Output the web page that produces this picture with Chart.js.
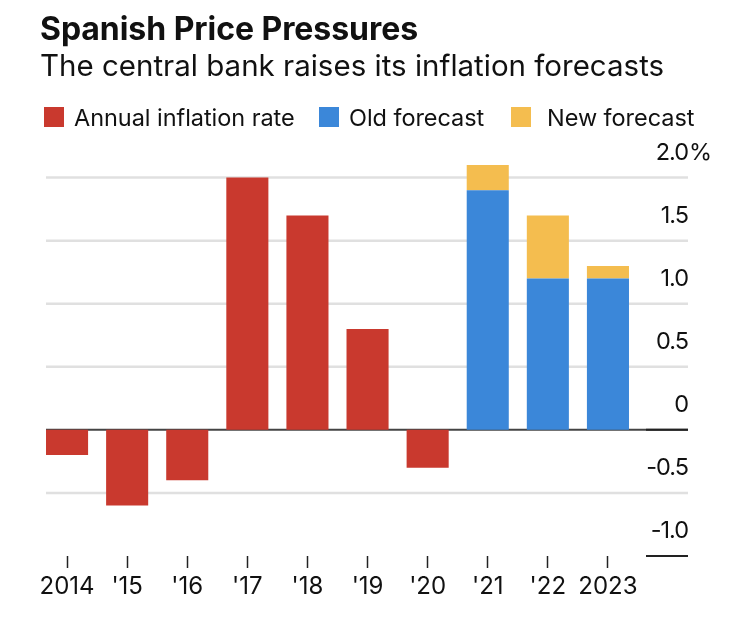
<!DOCTYPE html>
<html>
<head>
<meta charset="utf-8">
<script src="https://cdn.jsdelivr.net/npm/chart.js@4"></script>
<style>
    html, body { margin: 0; padding: 0; background: #fff; }
    #wrap { position: relative; width: 750px; height: 641px; overflow: hidden; font-family: Inter, sans-serif; color: #111; }
    #title { position: absolute; left: 40px; top: 9px; font-size: 32px; font-weight: 700; letter-spacing: -0.05px; white-space: nowrap; }
    #subtitle { position: absolute; left: 40px; top: 47px; font-size: 29.5px; white-space: nowrap; }
    .key { position: absolute; top: 107px; width: 20px; height: 20px; }
    .keytext { position: absolute; top: 103px; font-size: 23.5px; letter-spacing: -0.05px; white-space: nowrap; }
    canvas { position: absolute; left: 0; top: 0; }
</style>
</head>
<body>
<div id="wrap">
    <canvas id="priceChart" width="750" height="641"></canvas>
    <div id="title">Spanish Price Pressures</div>
    <div id="subtitle">The central bank raises its inflation forecasts</div>
    <div class="key" style="left:44px;background:#c9392e"></div>
    <div class="keytext" style="left:74px">Annual inflation rate</div>
    <div class="key" style="left:319px;background:#3b87d9"></div>
    <div class="keytext" style="left:349px">Old forecast</div>
    <div class="key" style="left:511px;background:#f4bd4f"></div>
    <div class="keytext" style="left:547px">New forecast</div>
</div>
<script>
var categories = ['2014', "'15", "'16", "'17", "'18", "'19", "'20", "'21", "'22", '2023'];
var inflationRate = [-0.2, -0.6, -0.4, 2.0, 1.7, 0.8, -0.3, null, null, null];
var oldForecast = [null, null, null, null, null, null, null, 1.9, 1.2, 1.2];
var newForecastAdded = [null, null, null, null, null, null, null, 0.2, 0.5, 0.1];
var tickValues = [-1, -0.5, 0, 0.5, 1, 1.5, 2];
var tickLabels = ['-1.0', '-0.5', '0', '0.5', '1.0', '1.5', '2.0'];

// grid lines run wider than the bars, and the y labels sit above their lines
var customAxis = {
    id: 'customAxis',
    beforeDatasetsDraw: function(chart) {
        var c = chart.ctx, y = chart.scales.y;
        c.save();
        tickValues.forEach(function(v) {
            var py = y.getPixelForValue(v);
            if (v === -1) {
                return;
            }
            c.beginPath();
            c.moveTo(46, py);
            c.lineTo(688, py);
            c.strokeStyle = v === 0 ? '#444' : '#e0e0e0';
            c.lineWidth = v === 0 ? 2 : 2.5;
            c.stroke();
        });
        c.restore();
    },
    afterDraw: function(chart) {
        var c = chart.ctx, y = chart.scales.y;
        c.save();
        c.strokeStyle = '#222';
        c.lineWidth = 2;
        [0, -1].forEach(function(v) {
            var py = y.getPixelForValue(v);
            c.beginPath();
            c.moveTo(646, py);
            c.lineTo(688, py);
            c.stroke();
        });
        c.font = '23.5px Inter, sans-serif';
        c.letterSpacing = '-1px';
        c.fillStyle = '#111';
        c.textBaseline = 'middle';
        tickValues.forEach(function(v, i) {
            var py = y.getPixelForValue(v) - 25;
            c.textAlign = 'right';
            c.fillText(tickLabels[i], 688, py);
            if (v === 2) {
                c.textAlign = 'left';
                c.fillText('%', 689, py);
            }
        });
        c.restore();
    }
};

var priceChart = new Chart(document.getElementById('priceChart').getContext('2d'), {
    type: 'bar',
    data: {
        labels: categories,
        datasets: [{
            label: 'Annual inflation rate',
            data: inflationRate,
            backgroundColor: '#c9392e'
        }, {
            label: 'Old forecast',
            data: oldForecast,
            backgroundColor: '#3b87d9'
        }, {
            label: 'New forecast',
            data: newForecastAdded,
            backgroundColor: '#f4bd4f'
        }]
    },
    options: {
        responsive: false,
        animation: false,
        barPercentage: 0.7,
        categoryPercentage: 1,
        layout: { padding: { left: 37, top: 165 } },
        plugins: {
            legend: { display: false },
            tooltip: { enabled: false }
        },
        scales: {
            x: {
                stacked: true,
                afterFit: function(scale) { scale.height = 85; },
                border: { display: false },
                grid: { offset: false, drawOnChartArea: false, drawTicks: true, tickLength: 12, color: '#222', tickWidth: 1.5 },
                ticks: {
                    color: '#111',
                    font: { family: 'Inter, sans-serif', size: 24 },
                    padding: 4,
                    autoSkip: false,
                    maxRotation: 0
                }
            },
            y: {
                stacked: true,
                position: 'right',
                min: -1,
                max: 2.1,
                afterBuildTicks: function(scale) {
                    scale.ticks = tickValues.map(function(v) { return { value: v }; });
                },
                afterFit: function(scale) { scale.width = 112; },
                border: { display: false },
                grid: { display: false },
                ticks: { display: false }
            }
        }
    },
    plugins: [customAxis]
});
</script>
</body>
</html>
